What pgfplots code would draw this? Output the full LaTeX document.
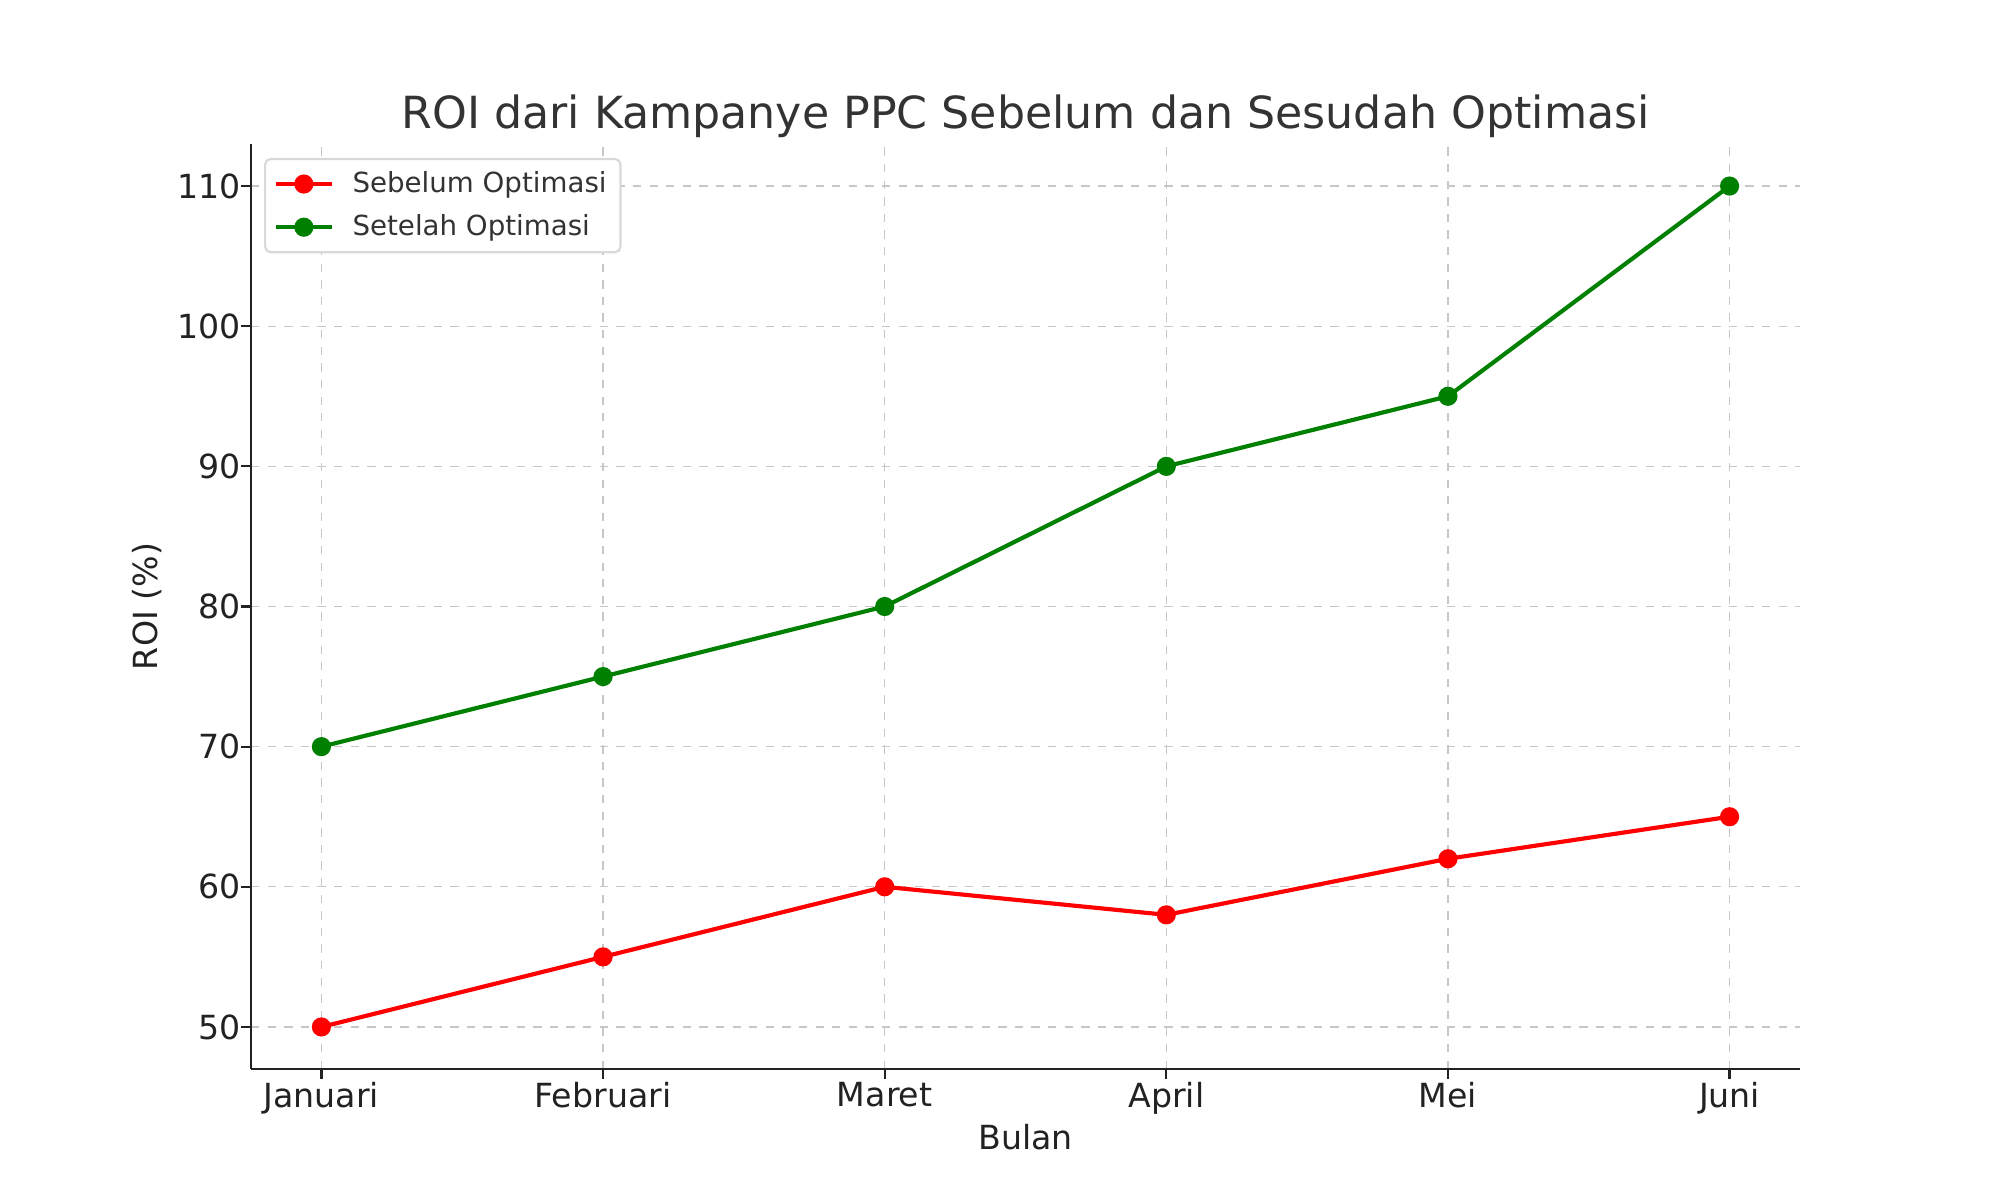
\documentclass[border=0pt]{standalone}
\usepackage{pgfplots}
\pgfplotsset{compat=1.18}
\usepackage{fontspec}
\setmainfont{DejaVu Sans}
\definecolor{mplgreen}{HTML}{008000}
\definecolor{txt}{HTML}{333333}
\definecolor{tick}{HTML}{222222}
\begin{document}
\begin{tikzpicture}
\useasboundingbox (0,0) rectangle (10in,6in);
\begin{axis}[
  at={(1.255in,0.655in)}, anchor=south west,
  scale only axis, width=7.745in, height=4.625in,
  xmin=-0.25, xmax=5.25, ymin=47, ymax=113,
  axis x line*=bottom, axis y line*=left,
  axis line style={line width=0.9pt, color=tick, -},
  xtick={0,1,2,3,4,5},
  xticklabels={Januari,Februari,Maret,April,Mei,Juni},
  ytick={50,60,70,80,90,100,110},
  tick align=outside, major tick length=3.5pt,
  tick style={color=tick, line width=0.8pt},
  /pgf/number format/assume math mode=true,
  ticklabel style={font=\fontsize{12}{14}\selectfont, text=tick},
  xticklabel style={yshift=2.3pt},
  yticklabel style={xshift=3.2pt},
  grid=major,
  major grid style={dashed, color=black!22, line width=0.5pt},
  title={ROI dari Kampanye PPC Sebelum dan Sesudah Optimasi},
  title style={at={(axis description cs:0.5,1)}, anchor=base, yshift=-0.4pt, font=\fontsize{16}{19}\selectfont, text=txt},
  xlabel={Bulan},
  xlabel style={at={(axis description cs:0.5,-0.0735)}, anchor=center, font=\fontsize{12}{14}\selectfont, text=tick},
  ylabel={ROI (\%)},
  ylabel style={at={(axis description cs:-0.0671,0.5)}, anchor=center, font=\fontsize{12}{14}\selectfont, text=tick},
  legend style={at={(axis description cs:0.0084,0.985)}, anchor=north west, draw=black!15, line width=0.8pt, rounded corners=2pt, font=\fontsize{10}{12}\selectfont, text=txt, fill=white, inner xsep=3pt, inner ysep=2.5pt, row sep=2.5pt},
  legend cell align=left,
  legend image code/.code={\draw[mark repeat=2,mark phase=2] plot coordinates {(0cm,0cm) (0.36cm,0cm) (0.72cm,0cm)};},
]
\addplot[color=red, line width=1.5pt, mark=*, mark size=2.7pt, mark options={fill=red, draw=red}] coordinates {(0,50) (1,55) (2,60) (3,58) (4,62) (5,65)};
\addlegendentry{\hspace{4.6pt}Sebelum Optimasi}
\addplot[color=mplgreen, line width=1.5pt, mark=*, mark size=2.7pt, mark options={fill=mplgreen, draw=mplgreen}] coordinates {(0,70) (1,75) (2,80) (3,90) (4,95) (5,110)};
\addlegendentry{\hspace{4.6pt}Setelah Optimasi}
\end{axis}
\end{tikzpicture}
\end{document}
